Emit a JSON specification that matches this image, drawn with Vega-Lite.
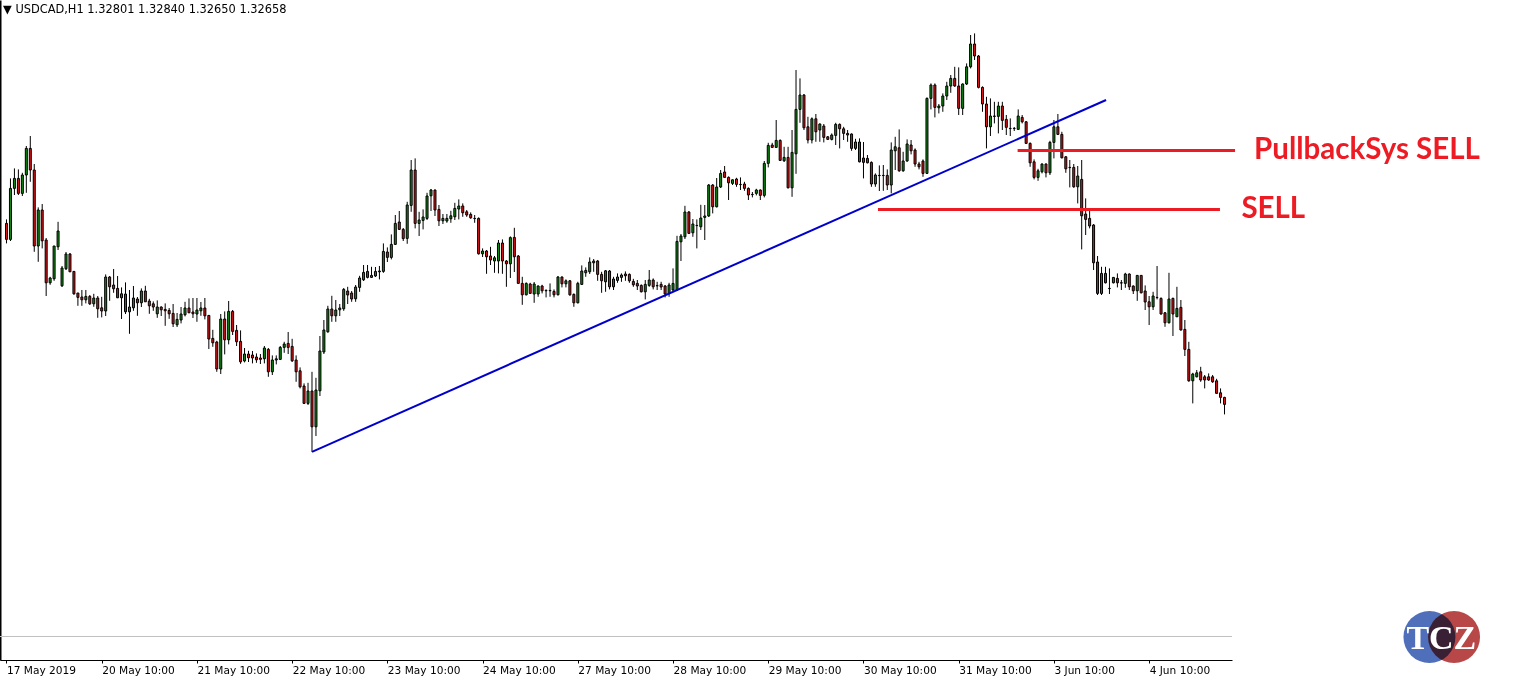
{
"$schema": "https://vega.github.io/schema/vega-lite/v6.json",
"width": 1232, "height": 660,
"autosize": {"type": "none"},
"padding": {"left": 0, "top": 0, "right": 286, "bottom": 20},
"background": "white",
"title": {"text": "▼ USDCAD,H1  1.32801 1.32840 1.32650 1.32658", "anchor": "start", "frame": "group", "orient": "top", "offset": -15, "font": "DejaVu Sans", "fontSize": 11.4, "fontWeight": "normal", "color": "black", "dx": 3},
"config": {"view": {"stroke": null}},
"resolve": {"axis": {"x": "independent", "y": "independent"}},
"datasets": {
"candles": [
{"i":0,"o":1.34683,"h":1.34703,"l":1.34583,"c":1.34603},
{"i":1,"o":1.34603,"h":1.34908,"l":1.34595,"c":1.34858},
{"i":2,"o":1.34858,"h":1.34958,"l":1.34825,"c":1.34908},
{"i":3,"o":1.34908,"h":1.34953,"l":1.34825,"c":1.34833},
{"i":4,"o":1.34833,"h":1.34936,"l":1.34820,"c":1.34925},
{"i":5,"o":1.34925,"h":1.35070,"l":1.34836,"c":1.35058},
{"i":6,"o":1.35058,"h":1.35120,"l":1.34891,"c":1.34950},
{"i":7,"o":1.34950,"h":1.34980,"l":1.34541,"c":1.34570},
{"i":8,"o":1.34570,"h":1.34763,"l":1.34491,"c":1.34750},
{"i":9,"o":1.34750,"h":1.34780,"l":1.34558,"c":1.34596},
{"i":10,"o":1.34600,"h":1.34610,"l":1.34320,"c":1.34386},
{"i":11,"o":1.34386,"h":1.34416,"l":1.34376,"c":1.34410},
{"i":12,"o":1.34406,"h":1.34570,"l":1.34396,"c":1.34570},
{"i":13,"o":1.34566,"h":1.34691,"l":1.34550,"c":1.34645},
{"i":14,"o":1.34371,"h":1.34470,"l":1.34365,"c":1.34460},
{"i":15,"o":1.34456,"h":1.34540,"l":1.34450,"c":1.34530},
{"i":16,"o":1.34530,"h":1.34535,"l":1.34440,"c":1.34441},
{"i":17,"o":1.34443,"h":1.34443,"l":1.34326,"c":1.34331},
{"i":18,"o":1.34335,"h":1.34335,"l":1.34271,"c":1.34313},
{"i":19,"o":1.34315,"h":1.34350,"l":1.34271,"c":1.34301},
{"i":20,"o":1.34301,"h":1.34350,"l":1.34283,"c":1.34318},
{"i":21,"o":1.34318,"h":1.34325,"l":1.34275,"c":1.34281},
{"i":22,"o":1.34281,"h":1.34331,"l":1.34266,"c":1.34310},
{"i":23,"o":1.34310,"h":1.34320,"l":1.34211,"c":1.34256},
{"i":24,"o":1.34261,"h":1.34316,"l":1.34213,"c":1.34245},
{"i":25,"o":1.34245,"h":1.34428,"l":1.34220,"c":1.34415},
{"i":26,"o":1.34415,"h":1.34420,"l":1.34296,"c":1.34366},
{"i":27,"o":1.34375,"h":1.34455,"l":1.34336,"c":1.34356},
{"i":28,"o":1.34358,"h":1.34420,"l":1.34311,"c":1.34311},
{"i":29,"o":1.34311,"h":1.34363,"l":1.34205,"c":1.34331},
{"i":30,"o":1.34330,"h":1.34388,"l":1.34230,"c":1.34241},
{"i":31,"o":1.34241,"h":1.34350,"l":1.34131,"c":1.34265},
{"i":32,"o":1.34261,"h":1.34370,"l":1.34246,"c":1.34310},
{"i":33,"o":1.34305,"h":1.34315,"l":1.34221,"c":1.34286},
{"i":34,"o":1.34286,"h":1.34358,"l":1.34265,"c":1.34345},
{"i":35,"o":1.34345,"h":1.34371,"l":1.34291,"c":1.34291},
{"i":36,"o":1.34295,"h":1.34306,"l":1.34231,"c":1.34271},
{"i":37,"o":1.34281,"h":1.34293,"l":1.34246,"c":1.34265},
{"i":38,"o":1.34231,"h":1.34298,"l":1.34211,"c":1.34265},
{"i":39,"o":1.34265,"h":1.34268,"l":1.34220,"c":1.34251},
{"i":40,"o":1.34253,"h":1.34283,"l":1.34171,"c":1.34246},
{"i":41,"o":1.34248,"h":1.34260,"l":1.34206,"c":1.34231},
{"i":42,"o":1.34233,"h":1.34280,"l":1.34165,"c":1.34181},
{"i":43,"o":1.34176,"h":1.34235,"l":1.34165,"c":1.34203},
{"i":44,"o":1.34200,"h":1.34265,"l":1.34183,"c":1.34230},
{"i":45,"o":1.34226,"h":1.34291,"l":1.34218,"c":1.34260},
{"i":46,"o":1.34260,"h":1.34308,"l":1.34236,"c":1.34236},
{"i":47,"o":1.34240,"h":1.34310,"l":1.34210,"c":1.34231},
{"i":48,"o":1.34230,"h":1.34310,"l":1.34191,"c":1.34250},
{"i":49,"o":1.34246,"h":1.34290,"l":1.34221,"c":1.34260},
{"i":50,"o":1.34260,"h":1.34310,"l":1.34203,"c":1.34221},
{"i":51,"o":1.34223,"h":1.34225,"l":1.34055,"c":1.34105},
{"i":52,"o":1.34108,"h":1.34151,"l":1.34066,"c":1.34086},
{"i":53,"o":1.34090,"h":1.34096,"l":1.33941,"c":1.33955},
{"i":54,"o":1.33955,"h":1.34230,"l":1.33930,"c":1.34205},
{"i":55,"o":1.34205,"h":1.34243,"l":1.34028,"c":1.34101},
{"i":56,"o":1.34101,"h":1.34295,"l":1.34078,"c":1.34243},
{"i":57,"o":1.34243,"h":1.34250,"l":1.34125,"c":1.34143},
{"i":58,"o":1.34148,"h":1.34175,"l":1.34070,"c":1.34091},
{"i":59,"o":1.34093,"h":1.34148,"l":1.33981,"c":1.33991},
{"i":60,"o":1.33995,"h":1.34060,"l":1.33988,"c":1.34030},
{"i":61,"o":1.34030,"h":1.34046,"l":1.33990,"c":1.34011},
{"i":62,"o":1.34025,"h":1.34045,"l":1.33983,"c":1.34010},
{"i":63,"o":1.34015,"h":1.34033,"l":1.33986,"c":1.34001},
{"i":64,"o":1.34010,"h":1.34030,"l":1.33980,"c":1.34003},
{"i":65,"o":1.34006,"h":1.34070,"l":1.33983,"c":1.34060},
{"i":66,"o":1.34053,"h":1.34060,"l":1.33916,"c":1.33941},
{"i":67,"o":1.33941,"h":1.34023,"l":1.33925,"c":1.34000},
{"i":68,"o":1.34000,"h":1.34023,"l":1.33978,"c":1.34006},
{"i":69,"o":1.34003,"h":1.34070,"l":1.34000,"c":1.34063},
{"i":70,"o":1.34063,"h":1.34091,"l":1.34036,"c":1.34080},
{"i":71,"o":1.34083,"h":1.34140,"l":1.34030,"c":1.34063},
{"i":72,"o":1.34068,"h":1.34106,"l":1.33990,"c":1.33996},
{"i":73,"o":1.34000,"h":1.34023,"l":1.33891,"c":1.33941},
{"i":74,"o":1.33946,"h":1.33963,"l":1.33858,"c":1.33866},
{"i":75,"o":1.33870,"h":1.33883,"l":1.33780,"c":1.33783},
{"i":76,"o":1.33783,"h":1.33886,"l":1.33775,"c":1.33845},
{"i":77,"o":1.33845,"h":1.33941,"l":1.33541,"c":1.33666},
{"i":78,"o":1.33666,"h":1.33911,"l":1.33620,"c":1.33850},
{"i":79,"o":1.33846,"h":1.34120,"l":1.33820,"c":1.34045},
{"i":80,"o":1.34040,"h":1.34200,"l":1.34030,"c":1.34150},
{"i":81,"o":1.34141,"h":1.34271,"l":1.34136,"c":1.34255},
{"i":82,"o":1.34255,"h":1.34321,"l":1.34191,"c":1.34221},
{"i":83,"o":1.34221,"h":1.34300,"l":1.34191,"c":1.34250},
{"i":84,"o":1.34251,"h":1.34280,"l":1.34220,"c":1.34260},
{"i":85,"o":1.34256,"h":1.34360,"l":1.34246,"c":1.34353},
{"i":86,"o":1.34345,"h":1.34366,"l":1.34280,"c":1.34325},
{"i":87,"o":1.34335,"h":1.34345,"l":1.34291,"c":1.34305},
{"i":88,"o":1.34306,"h":1.34375,"l":1.34291,"c":1.34365},
{"i":89,"o":1.34363,"h":1.34421,"l":1.34341,"c":1.34410},
{"i":90,"o":1.34401,"h":1.34475,"l":1.34395,"c":1.34438},
{"i":91,"o":1.34443,"h":1.34475,"l":1.34408,"c":1.34413},
{"i":92,"o":1.34413,"h":1.34466,"l":1.34410,"c":1.34423},
{"i":93,"o":1.34420,"h":1.34465,"l":1.34415,"c":1.34443},
{"i":94,"o":1.34445,"h":1.34470,"l":1.34403,"c":1.34441},
{"i":95,"o":1.34443,"h":1.34583,"l":1.34436,"c":1.34543},
{"i":96,"o":1.34540,"h":1.34563,"l":1.34490,"c":1.34513},
{"i":97,"o":1.34513,"h":1.34628,"l":1.34503,"c":1.34578},
{"i":98,"o":1.34578,"h":1.34725,"l":1.34575,"c":1.34683},
{"i":99,"o":1.34690,"h":1.34745,"l":1.34650,"c":1.34653},
{"i":100,"o":1.34653,"h":1.34660,"l":1.34595,"c":1.34607},
{"i":101,"o":1.34608,"h":1.34791,"l":1.34581,"c":1.34775},
{"i":102,"o":1.34773,"h":1.35000,"l":1.34741,"c":1.34950},
{"i":103,"o":1.34950,"h":1.35008,"l":1.34658,"c":1.34683},
{"i":104,"o":1.34683,"h":1.34741,"l":1.34620,"c":1.34700},
{"i":105,"o":1.34698,"h":1.34753,"l":1.34653,"c":1.34715},
{"i":106,"o":1.34708,"h":1.34836,"l":1.34700,"c":1.34820},
{"i":107,"o":1.34821,"h":1.34855,"l":1.34745,"c":1.34850},
{"i":108,"o":1.34850,"h":1.34852,"l":1.34720,"c":1.34750},
{"i":109,"o":1.34753,"h":1.34775,"l":1.34670,"c":1.34696},
{"i":110,"o":1.34696,"h":1.34730,"l":1.34680,"c":1.34708},
{"i":111,"o":1.34695,"h":1.34730,"l":1.34686,"c":1.34708},
{"i":112,"o":1.34706,"h":1.34746,"l":1.34686,"c":1.34721},
{"i":113,"o":1.34716,"h":1.34786,"l":1.34700,"c":1.34758},
{"i":114,"o":1.34755,"h":1.34803,"l":1.34703,"c":1.34770},
{"i":115,"o":1.34770,"h":1.34783,"l":1.34716,"c":1.34736},
{"i":116,"o":1.34741,"h":1.34750,"l":1.34716,"c":1.34725},
{"i":117,"o":1.34728,"h":1.34738,"l":1.34706,"c":1.34711},
{"i":118,"o":1.34708,"h":1.34725,"l":1.34686,"c":1.34707},
{"i":119,"o":1.34708,"h":1.34713,"l":1.34527,"c":1.34531},
{"i":120,"o":1.34531,"h":1.34558,"l":1.34515,"c":1.34545},
{"i":121,"o":1.34545,"h":1.34550,"l":1.34431,"c":1.34516},
{"i":122,"o":1.34520,"h":1.34566,"l":1.34475,"c":1.34500},
{"i":123,"o":1.34495,"h":1.34520,"l":1.34436,"c":1.34511},
{"i":124,"o":1.34495,"h":1.34600,"l":1.34433,"c":1.34585},
{"i":125,"o":1.34585,"h":1.34603,"l":1.34431,"c":1.34495},
{"i":126,"o":1.34495,"h":1.34500,"l":1.34366,"c":1.34481},
{"i":127,"o":1.34481,"h":1.34618,"l":1.34410,"c":1.34612},
{"i":128,"o":1.34613,"h":1.34661,"l":1.34440,"c":1.34516},
{"i":129,"o":1.34520,"h":1.34525,"l":1.34380,"c":1.34383},
{"i":130,"o":1.34383,"h":1.34416,"l":1.34276,"c":1.34326},
{"i":131,"o":1.34326,"h":1.34388,"l":1.34323,"c":1.34383},
{"i":132,"o":1.34380,"h":1.34386,"l":1.34330,"c":1.34333},
{"i":133,"o":1.34330,"h":1.34390,"l":1.34286,"c":1.34380},
{"i":134,"o":1.34330,"h":1.34373,"l":1.34316,"c":1.34370},
{"i":135,"o":1.34370,"h":1.34376,"l":1.34333,"c":1.34346},
{"i":136,"o":1.34348,"h":1.34353,"l":1.34313,"c":1.34346},
{"i":137,"o":1.34346,"h":1.34383,"l":1.34316,"c":1.34348},
{"i":138,"o":1.34343,"h":1.34353,"l":1.34313,"c":1.34326},
{"i":139,"o":1.34326,"h":1.34420,"l":1.34323,"c":1.34415},
{"i":140,"o":1.34415,"h":1.34418,"l":1.34363,"c":1.34381},
{"i":141,"o":1.34381,"h":1.34403,"l":1.34363,"c":1.34396},
{"i":142,"o":1.34396,"h":1.34400,"l":1.34321,"c":1.34326},
{"i":143,"o":1.34328,"h":1.34333,"l":1.34266,"c":1.34286},
{"i":144,"o":1.34286,"h":1.34391,"l":1.34283,"c":1.34383},
{"i":145,"o":1.34378,"h":1.34473,"l":1.34375,"c":1.34445},
{"i":146,"o":1.34436,"h":1.34463,"l":1.34416,"c":1.34448},
{"i":147,"o":1.34441,"h":1.34513,"l":1.34430,"c":1.34490},
{"i":148,"o":1.34495,"h":1.34505,"l":1.34441,"c":1.34486},
{"i":149,"o":1.34495,"h":1.34500,"l":1.34396,"c":1.34428},
{"i":150,"o":1.34428,"h":1.34441,"l":1.34336,"c":1.34396},
{"i":151,"o":1.34391,"h":1.34450,"l":1.34341,"c":1.34446},
{"i":152,"o":1.34445,"h":1.34450,"l":1.34353,"c":1.34366},
{"i":153,"o":1.34366,"h":1.34416,"l":1.34350,"c":1.34405},
{"i":154,"o":1.34398,"h":1.34433,"l":1.34386,"c":1.34415},
{"i":155,"o":1.34413,"h":1.34433,"l":1.34391,"c":1.34425},
{"i":156,"o":1.34430,"h":1.34443,"l":1.34396,"c":1.34421},
{"i":157,"o":1.34428,"h":1.34433,"l":1.34386,"c":1.34396},
{"i":158,"o":1.34393,"h":1.34406,"l":1.34366,"c":1.34376},
{"i":159,"o":1.34383,"h":1.34400,"l":1.34350,"c":1.34370},
{"i":160,"o":1.34373,"h":1.34378,"l":1.34338,"c":1.34341},
{"i":161,"o":1.34341,"h":1.34400,"l":1.34303,"c":1.34378},
{"i":162,"o":1.34373,"h":1.34450,"l":1.34366,"c":1.34400},
{"i":163,"o":1.34400,"h":1.34408,"l":1.34353,"c":1.34366},
{"i":164,"o":1.34371,"h":1.34391,"l":1.34350,"c":1.34372},
{"i":165,"o":1.34378,"h":1.34391,"l":1.34350,"c":1.34365},
{"i":166,"o":1.34370,"h":1.34375,"l":1.34313,"c":1.34330},
{"i":167,"o":1.34333,"h":1.34386,"l":1.34316,"c":1.34375},
{"i":168,"o":1.34350,"h":1.34458,"l":1.34341,"c":1.34383},
{"i":169,"o":1.34350,"h":1.34621,"l":1.34345,"c":1.34593},
{"i":170,"o":1.34591,"h":1.34630,"l":1.34495,"c":1.34620},
{"i":171,"o":1.34616,"h":1.34771,"l":1.34605,"c":1.34740},
{"i":172,"o":1.34740,"h":1.34745,"l":1.34630,"c":1.34633},
{"i":173,"o":1.34636,"h":1.34705,"l":1.34616,"c":1.34680},
{"i":174,"o":1.34673,"h":1.34703,"l":1.34558,"c":1.34672},
{"i":175,"o":1.34666,"h":1.34776,"l":1.34650,"c":1.34710},
{"i":176,"o":1.34713,"h":1.34775,"l":1.34600,"c":1.34720},
{"i":177,"o":1.34720,"h":1.34880,"l":1.34715,"c":1.34875},
{"i":178,"o":1.34875,"h":1.34880,"l":1.34733,"c":1.34766},
{"i":179,"o":1.34766,"h":1.34910,"l":1.34763,"c":1.34865},
{"i":180,"o":1.34865,"h":1.34950,"l":1.34860,"c":1.34933},
{"i":181,"o":1.34940,"h":1.34970,"l":1.34910,"c":1.34913},
{"i":182,"o":1.34913,"h":1.34918,"l":1.34800,"c":1.34886},
{"i":183,"o":1.34883,"h":1.34903,"l":1.34875,"c":1.34901},
{"i":184,"o":1.34905,"h":1.34911,"l":1.34866,"c":1.34878},
{"i":185,"o":1.34878,"h":1.34913,"l":1.34850,"c":1.34877},
{"i":186,"o":1.34880,"h":1.34891,"l":1.34846,"c":1.34858},
{"i":187,"o":1.34858,"h":1.34863,"l":1.34800,"c":1.34825},
{"i":188,"o":1.34828,"h":1.34840,"l":1.34813,"c":1.34827},
{"i":189,"o":1.34833,"h":1.34856,"l":1.34823,"c":1.34850},
{"i":190,"o":1.34850,"h":1.34853,"l":1.34800,"c":1.34823},
{"i":191,"o":1.34823,"h":1.34995,"l":1.34813,"c":1.34983},
{"i":192,"o":1.34983,"h":1.35086,"l":1.34963,"c":1.35073},
{"i":193,"o":1.35075,"h":1.35086,"l":1.35060,"c":1.35063},
{"i":194,"o":1.35063,"h":1.35200,"l":1.35060,"c":1.35098},
{"i":195,"o":1.35098,"h":1.35103,"l":1.34995,"c":1.34998},
{"i":196,"o":1.34996,"h":1.35066,"l":1.34990,"c":1.35013},
{"i":197,"o":1.35013,"h":1.35066,"l":1.34858,"c":1.34861},
{"i":198,"o":1.34861,"h":1.35150,"l":1.34816,"c":1.35038},
{"i":199,"o":1.35031,"h":1.35450,"l":1.34931,"c":1.35253},
{"i":200,"o":1.35253,"h":1.35408,"l":1.35186,"c":1.35325},
{"i":201,"o":1.35325,"h":1.35330,"l":1.35150,"c":1.35161},
{"i":202,"o":1.35166,"h":1.35216,"l":1.35083,"c":1.35100},
{"i":203,"o":1.35100,"h":1.35213,"l":1.35083,"c":1.35206},
{"i":204,"o":1.35206,"h":1.35230,"l":1.35091,"c":1.35141},
{"i":205,"o":1.35150,"h":1.35183,"l":1.35091,"c":1.35180},
{"i":206,"o":1.35170,"h":1.35180,"l":1.35088,"c":1.35113},
{"i":207,"o":1.35116,"h":1.35120,"l":1.35100,"c":1.35103},
{"i":208,"o":1.35103,"h":1.35133,"l":1.35098,"c":1.35125},
{"i":209,"o":1.35123,"h":1.35186,"l":1.35075,"c":1.35178},
{"i":210,"o":1.35178,"h":1.35183,"l":1.35058,"c":1.35156},
{"i":211,"o":1.35156,"h":1.35166,"l":1.35100,"c":1.35133},
{"i":212,"o":1.35133,"h":1.35150,"l":1.35091,"c":1.35125},
{"i":213,"o":1.35130,"h":1.35133,"l":1.35046,"c":1.35058},
{"i":214,"o":1.35058,"h":1.35106,"l":1.35050,"c":1.35090},
{"i":215,"o":1.35090,"h":1.35108,"l":1.34988,"c":1.34991},
{"i":216,"o":1.35010,"h":1.35090,"l":1.34908,"c":1.34988},
{"i":217,"o":1.35008,"h":1.35025,"l":1.34983,"c":1.34986},
{"i":218,"o":1.34988,"h":1.34993,"l":1.34866,"c":1.34880},
{"i":219,"o":1.34880,"h":1.34933,"l":1.34866,"c":1.34925},
{"i":220,"o":1.34923,"h":1.34973,"l":1.34845,"c":1.34922},
{"i":221,"o":1.34923,"h":1.34975,"l":1.34846,"c":1.34922},
{"i":222,"o":1.34923,"h":1.34953,"l":1.34850,"c":1.34875},
{"i":223,"o":1.34875,"h":1.35088,"l":1.34833,"c":1.35050},
{"i":224,"o":1.35046,"h":1.35116,"l":1.34950,"c":1.35066},
{"i":225,"o":1.35061,"h":1.35153,"l":1.34941,"c":1.34946},
{"i":226,"o":1.34946,"h":1.35041,"l":1.34941,"c":1.34995},
{"i":227,"o":1.34995,"h":1.35103,"l":1.34991,"c":1.35080},
{"i":228,"o":1.35075,"h":1.35100,"l":1.35028,"c":1.35046},
{"i":229,"o":1.35050,"h":1.35058,"l":1.34966,"c":1.34980},
{"i":230,"o":1.34980,"h":1.34991,"l":1.34953,"c":1.34966},
{"i":231,"o":1.34995,"h":1.35003,"l":1.34916,"c":1.34933},
{"i":232,"o":1.34933,"h":1.35313,"l":1.34930,"c":1.35308},
{"i":233,"o":1.35308,"h":1.35383,"l":1.35253,"c":1.35375},
{"i":234,"o":1.35375,"h":1.35383,"l":1.35213,"c":1.35263},
{"i":235,"o":1.35261,"h":1.35280,"l":1.35233,"c":1.35270},
{"i":236,"o":1.35270,"h":1.35333,"l":1.35241,"c":1.35320},
{"i":237,"o":1.35320,"h":1.35391,"l":1.35300,"c":1.35370},
{"i":238,"o":1.35370,"h":1.35425,"l":1.35336,"c":1.35408},
{"i":239,"o":1.35408,"h":1.35466,"l":1.35366,"c":1.35370},
{"i":240,"o":1.35370,"h":1.35463,"l":1.35225,"c":1.35258},
{"i":241,"o":1.35258,"h":1.35383,"l":1.35225,"c":1.35380},
{"i":242,"o":1.35380,"h":1.35483,"l":1.35375,"c":1.35466},
{"i":243,"o":1.35466,"h":1.35625,"l":1.35458,"c":1.35580},
{"i":244,"o":1.35580,"h":1.35633,"l":1.35500,"c":1.35520},
{"i":245,"o":1.35520,"h":1.35525,"l":1.35358,"c":1.35363},
{"i":246,"o":1.35363,"h":1.35368,"l":1.35241,"c":1.35280},
{"i":247,"o":1.35280,"h":1.35316,"l":1.35058,"c":1.35166},
{"i":248,"o":1.35166,"h":1.35308,"l":1.35120,"c":1.35220},
{"i":249,"o":1.35220,"h":1.35291,"l":1.35183,"c":1.35218},
{"i":250,"o":1.35218,"h":1.35291,"l":1.35133,"c":1.35270},
{"i":251,"o":1.35270,"h":1.35291,"l":1.35150,"c":1.35198},
{"i":252,"o":1.35203,"h":1.35225,"l":1.35125,"c":1.35163},
{"i":253,"o":1.35158,"h":1.35208,"l":1.35120,"c":1.35157},
{"i":254,"o":1.35158,"h":1.35165,"l":1.35145,"c":1.35157},
{"i":255,"o":1.35153,"h":1.35253,"l":1.35150,"c":1.35220},
{"i":256,"o":1.35213,"h":1.35225,"l":1.35183,"c":1.35191},
{"i":257,"o":1.35191,"h":1.35195,"l":1.35080,"c":1.35083},
{"i":258,"o":1.35083,"h":1.35088,"l":1.34966,"c":1.34986},
{"i":259,"o":1.34991,"h":1.35003,"l":1.34903,"c":1.34913},
{"i":260,"o":1.34913,"h":1.34956,"l":1.34896,"c":1.34946},
{"i":261,"o":1.34941,"h":1.34983,"l":1.34933,"c":1.34980},
{"i":262,"o":1.34980,"h":1.34983,"l":1.34913,"c":1.34936},
{"i":263,"o":1.34936,"h":1.35096,"l":1.34925,"c":1.35088},
{"i":264,"o":1.35088,"h":1.35200,"l":1.35008,"c":1.35166},
{"i":265,"o":1.35166,"h":1.35230,"l":1.35125,"c":1.35128},
{"i":266,"o":1.35128,"h":1.35141,"l":1.35008,"c":1.35011},
{"i":267,"o":1.35016,"h":1.35020,"l":1.34936,"c":1.34956},
{"i":268,"o":1.34963,"h":1.35000,"l":1.34863,"c":1.34962},
{"i":269,"o":1.34963,"h":1.34980,"l":1.34861,"c":1.34866},
{"i":270,"o":1.34866,"h":1.34970,"l":1.34783,"c":1.34920},
{"i":271,"o":1.34903,"h":1.35000,"l":1.34553,"c":1.34721},
{"i":272,"o":1.34730,"h":1.34808,"l":1.34625,"c":1.34703},
{"i":273,"o":1.34708,"h":1.34753,"l":1.34658,"c":1.34670},
{"i":274,"o":1.34675,"h":1.34680,"l":1.34450,"c":1.34486},
{"i":275,"o":1.34490,"h":1.34520,"l":1.34325,"c":1.34333},
{"i":276,"o":1.34333,"h":1.34466,"l":1.34325,"c":1.34433},
{"i":277,"o":1.34433,"h":1.34466,"l":1.34383,"c":1.34386},
{"i":278,"o":1.34358,"h":1.34458,"l":1.34330,"c":1.34357},
{"i":279,"o":1.34386,"h":1.34415,"l":1.34383,"c":1.34413},
{"i":280,"o":1.34408,"h":1.34433,"l":1.34363,"c":1.34386},
{"i":281,"o":1.34386,"h":1.34400,"l":1.34350,"c":1.34385},
{"i":282,"o":1.34383,"h":1.34436,"l":1.34361,"c":1.34430},
{"i":283,"o":1.34430,"h":1.34433,"l":1.34350,"c":1.34366},
{"i":284,"o":1.34370,"h":1.34373,"l":1.34330,"c":1.34346},
{"i":285,"o":1.34346,"h":1.34425,"l":1.34296,"c":1.34423},
{"i":286,"o":1.34423,"h":1.34425,"l":1.34333,"c":1.34336},
{"i":287,"o":1.34345,"h":1.34373,"l":1.34250,"c":1.34290},
{"i":288,"o":1.34291,"h":1.34320,"l":1.34175,"c":1.34266},
{"i":289,"o":1.34266,"h":1.34341,"l":1.34250,"c":1.34320},
{"i":290,"o":1.34313,"h":1.34470,"l":1.34303,"c":1.34312},
{"i":291,"o":1.34308,"h":1.34313,"l":1.34227,"c":1.34230},
{"i":292,"o":1.34236,"h":1.34240,"l":1.34166,"c":1.34186},
{"i":293,"o":1.34186,"h":1.34436,"l":1.34183,"c":1.34305},
{"i":294,"o":1.34308,"h":1.34312,"l":1.34120,"c":1.34230},
{"i":295,"o":1.34216,"h":1.34366,"l":1.34215,"c":1.34258},
{"i":296,"o":1.34263,"h":1.34300,"l":1.34147,"c":1.34150},
{"i":297,"o":1.34153,"h":1.34200,"l":1.34020,"c":1.34053},
{"i":298,"o":1.34053,"h":1.34091,"l":1.33891,"c":1.33896},
{"i":299,"o":1.33896,"h":1.33936,"l":1.33783,"c":1.33930},
{"i":300,"o":1.33916,"h":1.33950,"l":1.33913,"c":1.33936},
{"i":301,"o":1.33941,"h":1.33966,"l":1.33891,"c":1.33900},
{"i":302,"o":1.33916,"h":1.33925,"l":1.33858,"c":1.33900},
{"i":303,"o":1.33916,"h":1.33933,"l":1.33896,"c":1.33900},
{"i":304,"o":1.33916,"h":1.33925,"l":1.33886,"c":1.33891},
{"i":305,"o":1.33896,"h":1.33906,"l":1.33830,"c":1.33833},
{"i":306,"o":1.33836,"h":1.33858,"l":1.33783,"c":1.33813},
{"i":307,"o":1.33813,"h":1.33816,"l":1.33728,"c":1.33778}
]
},
"layer": [
{
"data": {"values": [{"p": 1.326175}]},
"mark": {"type": "rule", "color": "#c0c0c0", "strokeWidth": 1},
"encoding": {"y": {"field": "p", "type": "quantitative", "scale": {"domain": [1.325, 1.358], "nice": false, "zero": false}, "axis": null}}
},
{
"data": {"name": "candles"},
"mark": {"type": "rule", "color": "black", "strokeWidth": 1},
"encoding": {
"x": {"field": "i", "type": "quantitative", "scale": {"domain": [-0.375, 307.625], "nice": false, "zero": false},
"axis": {"values": [0,24,48,72,96,120,144,168,192,216,240,264,288], "labelExpr": "['17 May 2019','20 May 10:00','21 May 10:00','22 May 10:00','23 May 10:00','24 May 10:00','27 May 10:00','28 May 10:00','29 May 10:00','30 May 10:00','31 May 10:00','3 Jun 10:00','4 Jun 10:00'][floor(datum.value/24+0.5)]", "title": null, "grid": false, "domainColor": "black", "tickColor": "black", "tickSize": 3, "labelColor": "black", "labelFont": "DejaVu Sans", "labelFontSize": 10.6, "labelAlign": "left", "labelBaseline": "top", "labelPadding": 2, "labelDx": -1, "labelFlush": false, "labelOverlap": false, "labelBound": false}},
"y": {"field": "l", "type": "quantitative", "scale": {"domain": [1.325, 1.358], "nice": false, "zero": false},
"axis": {"orient": "left", "labels": false, "ticks": false, "grid": false, "title": null, "domainColor": "black", "domainWidth": 2}},
"y2": {"field": "h"}
}
},
{
"data": {"name": "candles"},
"mark": {"type": "bar", "width": 2, "stroke": "black", "strokeWidth": 1},
"encoding": {
"x": {"field": "i", "type": "quantitative", "scale": {"domain": [-0.375, 307.625], "nice": false, "zero": false}, "axis": null},
"y": {"field": "o", "type": "quantitative", "scale": {"domain": [1.325, 1.358], "nice": false, "zero": false}, "axis": null},
"y2": {"field": "c"},
"fill": {"condition": {"test": "datum.c >= datum.o", "value": "#128c12"}, "value": "#dd1515"}
}
},
{
"data": {"values": [{"t": 77, "p": 1.33541}, {"t": 277.15, "p": 1.3530}]},
"mark": {"type": "line", "color": "#0000cc", "strokeWidth": 2},
"encoding": {
"x": {"field": "t", "type": "quantitative", "scale": {"domain": [-0.375, 307.625], "nice": false, "zero": false}, "axis": null},
"y": {"field": "p", "type": "quantitative", "scale": {"domain": [1.325, 1.358], "nice": false, "zero": false}, "axis": null}
}
},
{
"data": {"values": [{"a": 254.85, "b": 309.65, "p": 1.35048}, {"a": 219.65, "b": 305.85, "p": 1.34753}]},
"mark": {"type": "rule", "color": "#ed1c24", "strokeWidth": 3},
"encoding": {
"x": {"field": "a", "type": "quantitative", "scale": {"domain": [-0.375, 307.625], "nice": false, "zero": false}, "axis": null},
"x2": {"field": "b"},
"y": {"field": "p", "type": "quantitative", "scale": {"domain": [1.325, 1.358], "nice": false, "zero": false}, "axis": null}
}
},
{
"data": {"values": [{"t": 314.45, "p": 1.35048, "s": "PullbackSys SELL"}, {"t": 311.25, "p": 1.34753, "s": "SELL"}]},
"mark": {"type": "text", "align": "left", "baseline": "middle", "font": "Lato", "fontWeight": "bold", "fontSize": 29.5, "color": "#ed1c24"},
"encoding": {
"x": {"field": "t", "type": "quantitative", "scale": {"domain": [-0.375, 307.625], "nice": false, "zero": false}, "axis": null},
"y": {"field": "p", "type": "quantitative", "scale": {"domain": [1.325, 1.358], "nice": false, "zero": false}, "axis": null},
"text": {"field": "s"}
}
},
{
"data": {"values": [{"t": 358.65, "p": 1.32615}]},
"mark": {"type": "point", "shape": "circle", "filled": true, "size": 2704, "color": "#4f6fba", "opacity": 1},
"encoding": {
"x": {"field": "t", "type": "quantitative", "scale": {"domain": [-0.375, 307.625], "nice": false, "zero": false}, "axis": null},
"y": {"field": "p", "type": "quantitative", "scale": {"domain": [1.325, 1.358], "nice": false, "zero": false}, "axis": null}
}
},
{
"data": {"values": [{"t": 364.85, "p": 1.32615}]},
"mark": {"type": "point", "shape": "circle", "filled": true, "size": 2704, "color": "#b84848", "opacity": 1, "blend": "multiply"},
"encoding": {
"x": {"field": "t", "type": "quantitative", "scale": {"domain": [-0.375, 307.625], "nice": false, "zero": false}, "axis": null},
"y": {"field": "p", "type": "quantitative", "scale": {"domain": [1.325, 1.358], "nice": false, "zero": false}, "axis": null}
}
},
{
"data": {"values": [{"t": 361.65, "p": 1.32605, "s": "TCZ"}]},
"mark": {"type": "text", "align": "center", "baseline": "middle", "font": "Liberation Serif", "fontWeight": "bold", "fontSize": 34, "color": "white"},
"encoding": {
"x": {"field": "t", "type": "quantitative", "scale": {"domain": [-0.375, 307.625], "nice": false, "zero": false}, "axis": null},
"y": {"field": "p", "type": "quantitative", "scale": {"domain": [1.325, 1.358], "nice": false, "zero": false}, "axis": null},
"text": {"field": "s"}
}
}
]
}
